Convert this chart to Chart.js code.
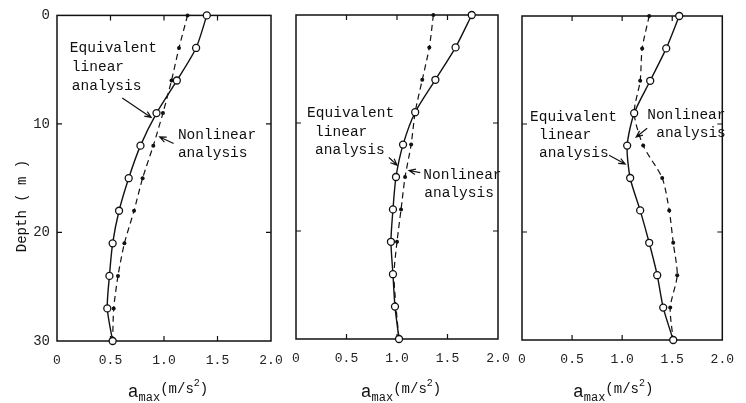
<!DOCTYPE html>
<html>
<head>
<meta charset="utf-8">
<script src="https://cdn.jsdelivr.net/npm/chart.js@4.4.1/dist/chart.umd.min.js"></script>
<style>
  body { margin: 0; background: #fff; width: 746px; height: 403px; overflow: hidden; position: relative; }
  canvas { position: absolute; left: 0; top: 0; }
</style>
</head>
<body>
<canvas id="c1" width="746" height="403"></canvas>
<canvas id="c2" width="746" height="403"></canvas>
<canvas id="c3" width="746" height="403"></canvas>
<script>
// depth of each computed point (m)
const depths = [0, 3, 6, 9, 12, 15, 18, 21, 24, 27, 30];

// peak acceleration, m/s^2
const eqLinear1 = [1.40, 1.30, 1.12, 0.93, 0.78, 0.67, 0.58, 0.52, 0.49, 0.47, 0.52];
const nonLinear1 = [1.22, 1.14, 1.07, 0.99, 0.90, 0.80, 0.72, 0.63, 0.57, 0.53, 0.52];

const eqLinear2 = [1.74, 1.58, 1.38, 1.18, 1.06, 0.99, 0.96, 0.94, 0.96, 0.98, 1.02];
const nonLinear2 = [1.36, 1.32, 1.25, 1.18, 1.14, 1.08, 1.04, 1.00, 0.97, 0.99, 1.02];

const eqLinear3 = [1.57, 1.44, 1.28, 1.12, 1.05, 1.08, 1.18, 1.27, 1.35, 1.41, 1.51];
const nonLinear3 = [1.27, 1.20, 1.18, 1.12, 1.21, 1.40, 1.47, 1.51, 1.55, 1.48, 1.51];

const xInnerTicks = [0.5, 1.0, 1.5];
const depthInnerTicks = [10, 20];

const MONO = "'Liberation Mono', 'DejaVu Sans Mono', monospace";
const INK = '#111';

// frame + inward tick marks
const framePlugin = {
    id: 'frame',
    beforeDatasetsDraw(chart) {
        const { ctx, chartArea: a, scales: { x, y } } = chart;
        ctx.save();
        ctx.strokeStyle = INK;
        ctx.lineWidth = 1.5;
        ctx.strokeRect(a.left, a.top, a.right - a.left, a.bottom - a.top);
        ctx.lineWidth = 1.2;
        ctx.beginPath();
        xInnerTicks.forEach(v => {
            const px = x.getPixelForValue(v);
            ctx.moveTo(px, a.top); ctx.lineTo(px, a.top + 5);
            ctx.moveTo(px, a.bottom); ctx.lineTo(px, a.bottom - 5);
        });
        depthInnerTicks.forEach(v => {
            const py = y.getPixelForValue(v);
            ctx.moveTo(a.left, py); ctx.lineTo(a.left + 5, py);
            ctx.moveTo(a.right, py); ctx.lineTo(a.right - 5, py);
        });
        ctx.stroke();
        ctx.restore();
    }
};

// text labels, arrows and axis titles
const notesPlugin = {
    id: 'notes',
    afterDatasetsDraw(chart, args, opts) {
        const { ctx, chartArea: a, scales: { x, y } } = chart;
        ctx.save();
        ctx.fillStyle = INK;
        ctx.strokeStyle = INK;
        ctx.textBaseline = 'middle';
        ctx.textAlign = 'left';
        ctx.font = '14.5px ' + MONO;

        (opts.texts || []).forEach(t => {
            const px = x.getPixelForValue(t.at[0]);
            const py = y.getPixelForValue(t.at[1]);
            t.lines.forEach((line, i) => {
                ctx.fillText(line, px + (i > 0 ? t.indent : 0), py + i * t.gap);
            });
        });

        ctx.lineWidth = 1.2;
        (opts.arrows || []).forEach(ar => {
            const x0 = x.getPixelForValue(ar.from[0]), y0 = y.getPixelForValue(ar.from[1]);
            const x1 = x.getPixelForValue(ar.to[0]), y1 = y.getPixelForValue(ar.to[1]);
            const ang = Math.atan2(y1 - y0, x1 - x0);
            ctx.beginPath();
            ctx.moveTo(x0, y0); ctx.lineTo(x1, y1);
            ctx.moveTo(x1 - 7 * Math.cos(ang - 0.4), y1 - 7 * Math.sin(ang - 0.4));
            ctx.lineTo(x1, y1);
            ctx.lineTo(x1 - 7 * Math.cos(ang + 0.4), y1 - 7 * Math.sin(ang + 0.4));
            ctx.stroke();
        });

        // x title: a_max (m/s^2)
        const cx = (a.left + a.right) / 2 + (opts.titleShift || 0);
        const parts = [
            { s: 'a', f: 18, dy: 0 },
            { s: 'max', f: 12, dy: 4 },
            { s: '(m/s', f: 14, dy: -4 },
            { s: '2', f: 10, dy: -11 },
            { s: ')', f: 14, dy: -4 }
        ];
        ctx.textBaseline = 'alphabetic';
        let w = 0;
        parts.forEach(p => { ctx.font = p.f + 'px ' + MONO; p.w = ctx.measureText(p.s).width; w += p.w; });
        let px = cx - w / 2;
        const base = 397;
        parts.forEach(p => {
            ctx.font = p.f + 'px ' + MONO;
            ctx.fillText(p.s, px, base + p.dy);
            px += p.w;
        });

        if (opts.depthTitle) {
            ctx.translate(22, 206);
            ctx.rotate(-Math.PI / 2);
            ctx.textAlign = 'center';
            ctx.textBaseline = 'middle';
            ctx.font = '14px ' + MONO;
            ctx.fillText('Depth ( m )', 0, 0);
        }
        ctx.restore();
    }
};

function makeChart(id, eq, nl, cfg) {
    const ctx = document.getElementById(id).getContext('2d');
    return new Chart(ctx, {
        type: 'line',
        data: {
            datasets: [
                {
                    label: 'Equivalent linear analysis',
                    data: depths.map((d, i) => ({ x: eq[i], y: d })),
                    borderColor: INK,
                    borderWidth: 1.4,
                    tension: 0.25,
                    pointRadius: 3.5,
                    pointBackgroundColor: '#fff',
                    pointBorderColor: INK,
                    pointBorderWidth: 1.3,
                    order: 0
                },
                {
                    label: 'Nonlinear analysis',
                    data: depths.map((d, i) => ({ x: nl[i], y: d })),
                    borderColor: INK,
                    borderWidth: 1.2,
                    borderDash: [6, 4],
                    tension: 0.25,
                    pointRadius: 2,
                    pointBackgroundColor: INK,
                    pointBorderColor: INK,
                    pointBorderWidth: 0,
                    order: 1
                }
            ]
        },
        options: {
            responsive: false,
            animation: false,
            clip: false,
            layout: { padding: cfg.padding },
            plugins: {
                legend: { display: false },
                tooltip: { enabled: false },
                notes: cfg.notes
            },
            scales: {
                x: {
                    type: 'linear',
                    min: 0,
                    max: 2,
                    grid: { display: false, drawTicks: false },
                    border: { display: false },
                    ticks: {
                        stepSize: 0.5,
                        padding: 12,
                        color: '#222',
                        maxRotation: 0,
                        autoSkip: false,
                        font: { family: MONO, size: 13 },
                        callback: v => v === 0 ? '0' : v.toFixed(1)
                    },
                    afterFit: s => { s.height = cfg.xHeight; }
                },
                y: {
                    type: 'linear',
                    min: 0,
                    max: 30,
                    reverse: true,
                    grid: { display: false, drawTicks: false },
                    border: { display: false },
                    ticks: {
                        display: cfg.yLabels,
                        stepSize: 10,
                        padding: 7,
                        color: '#222',
                        font: { family: MONO, size: 14 }
                    },
                    afterFit: s => { s.width = cfg.yWidth; }
                }
            }
        },
        plugins: [framePlugin, notesPlugin]
    });
}

makeChart('c1', eqLinear1, nonLinear1, {
    padding: { left: 0, top: 15, right: 475, bottom: 0 },
    yWidth: 57, xHeight: 62, yLabels: true,
    notes: {
        depthTitle: true,
        titleShift: 4,
        texts: [
            { at: [0.12, 3.0], lines: ['Equivalent', 'linear', 'analysis'], indent: 2, gap: 19 },
            { at: [1.13, 11.0], lines: ['Nonlinear', 'analysis'], indent: 0, gap: 18 }
        ],
        arrows: [
            { from: [0.61, 7.6], to: [0.88, 9.4] },
            { from: [1.09, 11.8], to: [0.96, 11.2] }
        ]
    }
});

makeChart('c2', eqLinear2, nonLinear2, {
    padding: { left: 286, top: 15, right: 248, bottom: 0 },
    yWidth: 10, xHeight: 64, yLabels: false,
    notes: {
        titleShift: 4,
        texts: [
            { at: [0.11, 9.1], lines: ['Equivalent', 'linear', 'analysis'], indent: 8, gap: 18.5 },
            { at: [1.26, 14.8], lines: ['Nonlinear', 'analysis'], indent: 1, gap: 18 }
        ],
        arrows: [
            { from: [0.92, 13.2], to: [1.0, 13.9] },
            { from: [1.23, 14.6], to: [1.12, 14.4] }
        ]
    }
});

makeChart('c3', eqLinear3, nonLinear3, {
    padding: { left: 512, top: 16, right: 13, bottom: 0 },
    yWidth: 10, xHeight: 63, yLabels: false,
    notes: {
        titleShift: -9,
        texts: [
            { at: [0.08, 9.4], lines: ['Equivalent', 'linear', 'analysis'], indent: 9, gap: 18 },
            { at: [1.25, 9.2], lines: ['Nonlinear', 'analysis'], indent: 9, gap: 18 }
        ],
        arrows: [
            { from: [0.87, 12.9], to: [1.03, 13.7] },
            { from: [1.25, 10.4], to: [1.14, 11.2] }
        ]
    }
});
</script>
</body>
</html>
